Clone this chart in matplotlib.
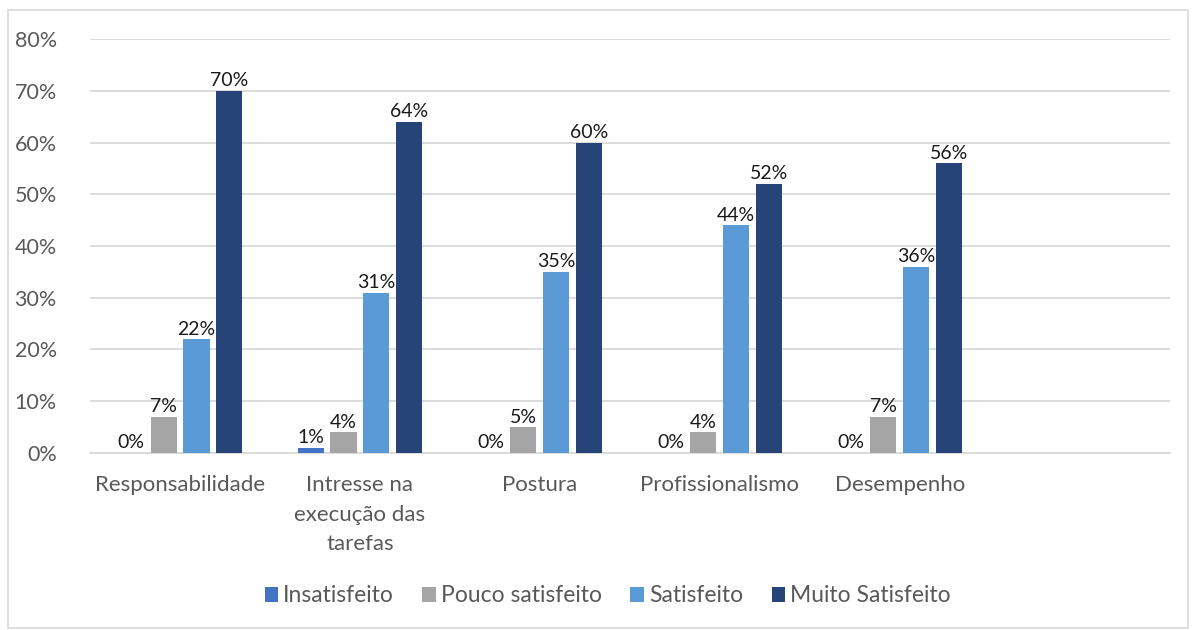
import numpy as np
import matplotlib.pyplot as plt
from matplotlib.patches import Rectangle

categories = ['Responsabilidade', 'Intresse na\nexecução das\ntarefas', 'Postura',
              'Profissionalismo', 'Desempenho', '']
series_names = ['Insatisfeito', 'Pouco satisfeito', 'Satisfeito', 'Muito Satisfeito']
insatisfeito = [0.00, 0.01, 0.00, 0.00, 0.00]
pouco_satisfeito = [0.07, 0.04, 0.05, 0.04, 0.07]
satisfeito = [0.22, 0.31, 0.35, 0.44, 0.36]
muito_satisfeito = [0.70, 0.64, 0.60, 0.52, 0.56]
colors = ['#4472c4', '#a5a5a5', '#5b9bd5', '#264478']

plt.rcParams['font.family'] = ['Lato', 'DejaVu Sans']

fig = plt.figure(figsize=(11.96, 6.3), dpi=100)
ax = fig.add_axes([0.0753, 0.281, 0.9027, 0.657])

x = np.arange(len(categories))
pitch = 0.183
width = 0.145
all_series = [insatisfeito, pouco_satisfeito, satisfeito, muito_satisfeito]
for i, (name, vals, c) in enumerate(zip(series_names, all_series, colors)):
    pos = x[:len(vals)] + (i - 1.5) * pitch
    bars = ax.bar(pos, vals, width, color=c, label=name, zorder=3)
    for b, v in zip(bars, vals):
        ax.text(b.get_x() + b.get_width() / 2, v + 0.003, f'{v * 100:.0f}%',
                ha='center', va='bottom', fontsize=14, color='#1a1a1a', zorder=4)

ax.set_xlim(-0.5, len(categories) - 0.5)
ax.set_ylim(0, 0.8)
ax.set_yticks(np.arange(0, 0.81, 0.1))
ax.set_yticklabels([f'{t * 100:.0f}%' for t in np.arange(0, 0.81, 0.1)])
ax.set_xticks(x)
ax.set_xticklabels(categories, linespacing=1.6)
ax.tick_params(axis='x', length=0, labelsize=16, colors='#595959', pad=16)
ax.tick_params(axis='y', length=0, labelsize=15.5, colors='#595959', pad=24)
ax.grid(axis='y', color='#d9d9d9', linewidth=1.3, zorder=0)
for s in ['top', 'right', 'left']:
    ax.spines[s].set_visible(False)
ax.spines['bottom'].set_color('#d9d9d9')
ax.spines['bottom'].set_linewidth(1.3)

leg = fig.legend(loc='center', bbox_to_anchor=(0.508, 0.054), ncol=4, frameon=False,
                 fontsize=16.5, handlelength=0.6, handleheight=0.6, handletextpad=0.2,
                 columnspacing=1.25)
for t in leg.get_texts():
    t.set_color('#595959')

fig.patches.append(Rectangle((8 / 1196, 2 / 630), 1180 / 1196, 618 / 630,
                             transform=fig.transFigure, fill=False,
                             edgecolor='#d9d9d9', linewidth=1.2))

fig.savefig('out.png', dpi=100)
